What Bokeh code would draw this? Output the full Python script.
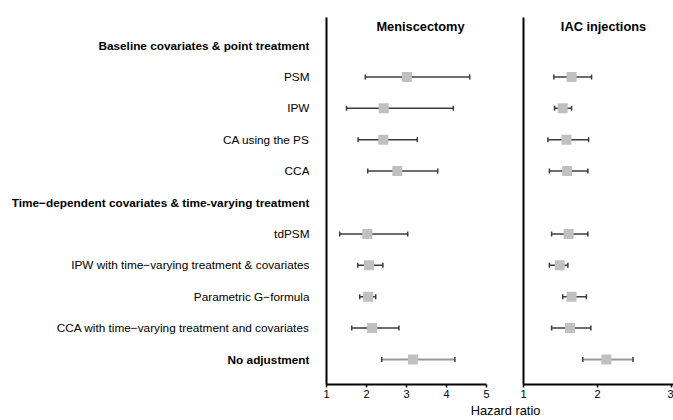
import math
from bokeh.plotting import figure
from bokeh.layouts import row, column
from bokeh.models import (Range1d, LinearAxis, FixedTicker, Label,
                          ColumnDataSource)
from bokeh.core.properties import value
from bokeh.embed import file_html
from bokeh.resources import INLINE

# ---------------- data ----------------
row_labels = [
    "Baseline covariates & point treatment",
    "PSM",
    "IPW",
    "CA using the PS",
    "CCA",
    "Time\u2212dependent covariates & time-varying treatment",
    "tdPSM",
    "IPW with time\u2212varying treatment & covariates",
    "Parametric G\u2212formula",
    "CCA with time\u2212varying treatment and covariates",
    "No adjustment",
]
bold_rows = [0, 5, 10]
method_rows = [1, 2, 3, 4, 6, 7, 8, 9, 10]

menisc_hr = [3.01, 2.43, 2.42, 2.77, 2.02, 2.06, 2.04, 2.14, 3.16]
menisc_lo = [1.97, 1.50, 1.79, 2.03, 1.33, 1.78, 1.83, 1.63, 2.38]
menisc_hi = [4.58, 4.17, 3.27, 3.78, 3.03, 2.41, 2.23, 2.81, 4.21]

iac_hr = [1.65, 1.53, 1.58, 1.59, 1.61, 1.49, 1.65, 1.63, 2.12]
iac_lo = [1.41, 1.42, 1.33, 1.35, 1.38, 1.35, 1.53, 1.38, 1.80]
iac_hi = [1.92, 1.65, 1.88, 1.87, 1.87, 1.60, 1.85, 1.91, 2.48]

panel_titles = ["Meniscectomy", "IAC injections"]
menisc_ticks = [1, 2, 3, 4, 5]
iac_ticks = [1, 2, 3]
x_title = "Hazard ratio"

# ---------------- layout constants ----------------
FONT = "Liberation Sans"
TOP_H = 402
BOT_H = 420 - TOP_H
BT, BB = 17, 18
FH = TOP_H - BT - BB
ROW_PX = 31.4
FIRST_ROW_OFF = 28.0
y_top = -FIRST_ROW_OFF / ROW_PX
y_bot = y_top + FH / ROW_PX
y_range = Range1d(y_bot, y_top)

LAB_W = 318
LEFT_W = 187       # canvas 318..505, frame 326..486
RIGHT_W = 673 - LAB_W - LEFT_W   # canvas 505..673, frame 523..673
RIGHT_FRAME = RIGHT_W - 18
RIGHT_PX = 74.0

WHISK = "#3c3c3c"
WHISK_LIGHT = "#999999"
CAP = "#3c3c3c"
BOX = "#c0c0c0"


def base_fig(w, h, xr, yr, bl, br, bt, bb):
    f = figure(width=w, height=h, x_range=xr, y_range=yr,
               x_axis_location=None, y_axis_location=None,
               output_backend="svg", toolbar_location=None,
               min_border_left=bl, min_border_right=br,
               min_border_top=bt, min_border_bottom=bb)
    f.grid.grid_line_color = None
    f.outline_line_color = None
    f.background_fill_color = "white"
    f.border_fill_color = "white"
    return f


# ---------- row labels ----------
f_lab = base_fig(LAB_W, TOP_H, Range1d(0, 1), y_range, 0, 9, BT, BB)
lab_src = ColumnDataSource(dict(
    x=[1] * len(row_labels),
    y=list(range(len(row_labels))),
    text=row_labels,
    style=["bold" if i in bold_rows else "normal" for i in range(len(row_labels))],
))
f_lab.text(x="x", y="y", text="text", source=lab_src, text_align="right",
           text_baseline="middle", text_font=value(FONT),
           text_font_size=value("11.8px"), text_font_style="style",
           text_color="black")


def panel(width, xr, ticks, bl, br, hr, lo, hi, title, title_x):
    f = base_fig(width, TOP_H, xr, y_range, bl, br, BT, BB)
    ax = LinearAxis(ticker=FixedTicker(ticks=ticks))
    ax.axis_line_width = 2
    ax.axis_line_color = "black"
    ax.major_tick_out = 3
    ax.major_tick_in = 0
    ax.major_tick_line_width = 1.5
    ax.major_tick_line_color = "black"
    ax.minor_tick_out = 0
    ax.minor_tick_in = 0
    ax.major_label_text_font = FONT
    ax.major_label_text_font_size = "11px"
    ax.major_label_text_color = "black"
    ax.major_label_standoff = 2
    f.add_layout(ax, "below")

    yax = LinearAxis(ticker=FixedTicker(ticks=[]))
    yax.axis_line_width = 2
    yax.axis_line_color = "black"
    yax.major_tick_out = 0
    yax.minor_tick_out = 0
    yax.major_label_standoff = 0
    f.add_layout(yax, "left")

    colors = [WHISK_LIGHT if r in bold_rows else WHISK for r in method_rows]
    widths = [2.0 if r in bold_rows else 1.5 for r in method_rows]
    src = ColumnDataSource(dict(y=method_rows, hr=hr, lo=lo, hi=hi,
                                c=colors, w=widths))
    f.segment(x0="lo", x1="hi", y0="y", y1="y", source=src,
              line_color="c", line_width="w")
    for col in ("lo", "hi"):
        f.scatter(x=col, y="y", source=src, marker="dash", angle=math.pi / 2,
                  size=5, line_color=CAP, line_width=1.5)
    f.scatter(x="hr", y="y", source=src, marker="square", size=10,
              fill_color=BOX, line_color=None)

    f.add_layout(Label(x=title_x, y=FH - 9, x_units="screen", y_units="screen",
                       text=title, text_align="center", text_baseline="middle",
                       text_font=FONT, text_font_size="12.8px",
                       text_font_style="bold", text_color="black"))
    return f


f_left = panel(LEFT_W, Range1d(menisc_ticks[0], menisc_ticks[-1]), menisc_ticks,
               8, 19, menisc_hr, menisc_lo, menisc_hi, panel_titles[0], 94)
f_right = panel(RIGHT_W,
                Range1d(iac_ticks[0], iac_ticks[0] + RIGHT_FRAME / RIGHT_PX),
                iac_ticks, 18, 0, iac_hr, iac_lo, iac_hi, panel_titles[1], 80)

# ---------- x title ----------
f_bot = base_fig(673, BOT_H, Range1d(0, 1), Range1d(0, 1), 337, 0, 0, 0)
f_bot.text(x=[0.5], y=[1], text=[x_title], text_align="center",
           text_baseline="top", text_font=value(FONT),
           text_font_size=value("12.8px"), text_color="black")

layout = column(row(f_lab, f_left, f_right), f_bot)
open("out.html", "w").write(file_html(layout, INLINE))
